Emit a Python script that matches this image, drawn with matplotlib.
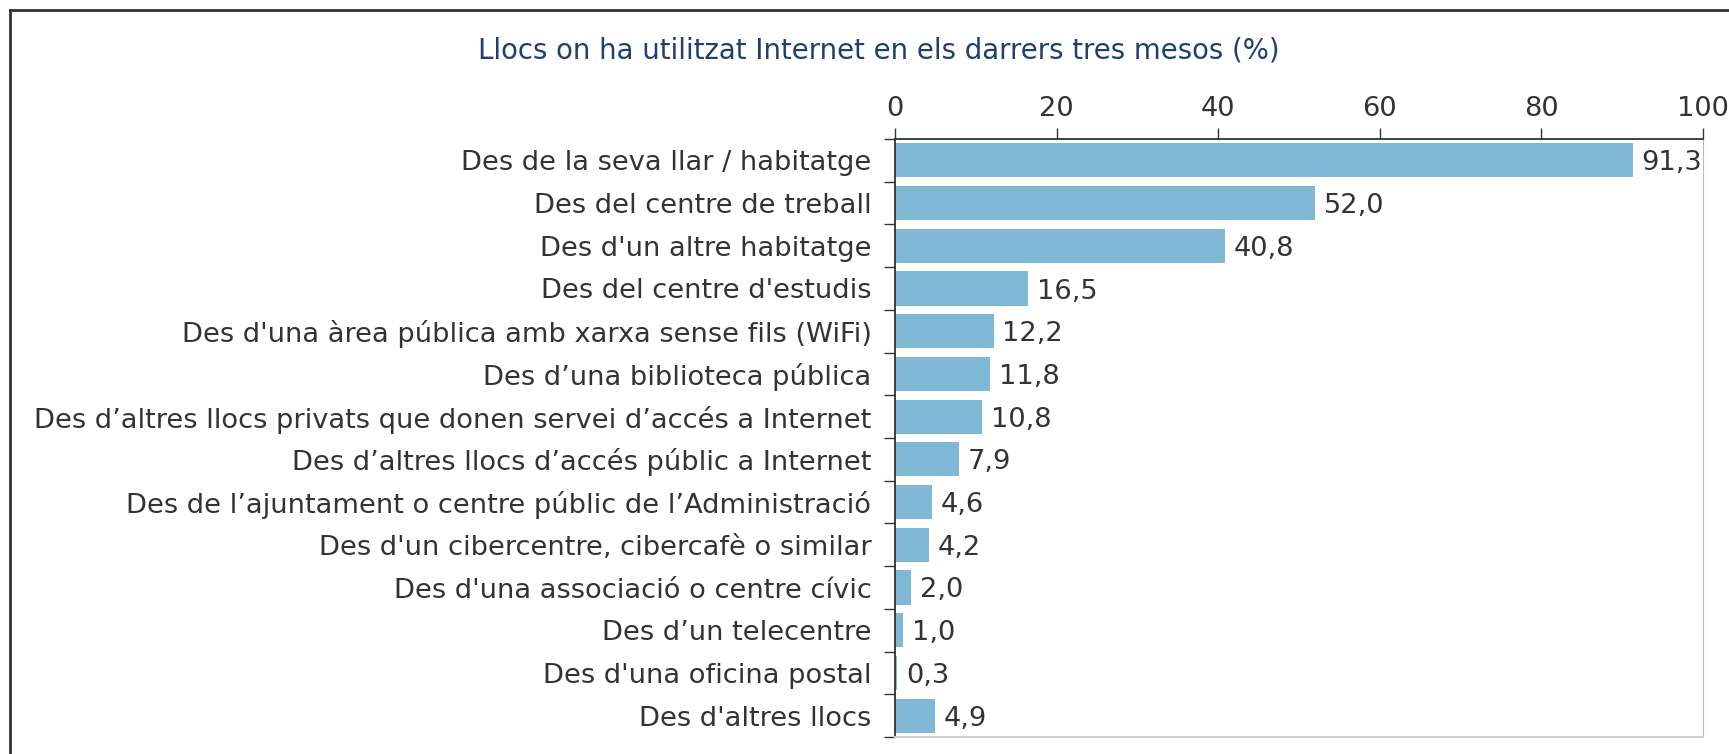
import matplotlib
matplotlib.use("Agg")
import matplotlib.pyplot as plt
import numpy as np

# data
llocs = [
    "Des de la seva llar / habitatge",
    "Des del centre de treball",
    "Des d'un altre habitatge",
    "Des del centre d'estudis",
    "Des d'una àrea pública amb xarxa sense fils (WiFi)",
    "Des d\u2019una biblioteca pública",
    "Des d\u2019altres llocs privats que donen servei d\u2019accés a Internet",
    "Des d\u2019altres llocs d\u2019accés públic a Internet",
    "Des de l\u2019ajuntament o centre públic de l\u2019Administració",
    "Des d'un cibercentre, cibercafè o similar",
    "Des d'una associació o centre cívic",
    "Des d\u2019un telecentre",
    "Des d'una oficina postal",
    "Des d'altres llocs",
]
percent = [91.3, 52.0, 40.8, 16.5, 12.2, 11.8, 10.8, 7.9, 4.6, 4.2, 2.0, 1.0, 0.3, 4.9]
xticks = [0, 20, 40, 60, 80, 100]

W, H = 1729, 754
fig = plt.figure(figsize=(W / 100, H / 100), dpi=100)
ax = fig.add_axes([895 / W, 1 - 737 / H, (1703 - 895) / W, (737 - 139) / H])

dark = "#333333"
fs = 19.6

y = np.arange(len(llocs))
ax.barh(y, percent, height=0.8, color="#7fb9d6")
for yi, v in zip(y, percent):
    ax.text(v + 1.1, yi, f"{v:.1f}".replace(".", ","), va="center_baseline", ha="left",
            fontsize=fs, color=dark)

ax.set_xlim(0, 100)
ax.set_ylim(len(llocs) - 0.5, -0.5)
ax.xaxis.tick_top()
ax.set_xticks(xticks)
ax.set_xticklabels([str(t) for t in xticks], fontsize=fs, color=dark)
ax.tick_params(axis="x", direction="out", length=8, width=1, color=dark, pad=4)

ax.set_yticks(y)
ax.set_yticklabels(llocs, fontsize=fs, color=dark)
ax.set_yticks(np.arange(-0.5, len(llocs)), minor=True)
ax.tick_params(axis="y", which="major", length=0, pad=17)
ax.tick_params(axis="y", which="minor", direction="out", length=8, width=1, color=dark)

ax.spines["top"].set_color(dark)
ax.spines["left"].set_color(dark)
ax.spines["top"].set_linewidth(1.3)
ax.spines["left"].set_linewidth(1.3)
ax.spines["right"].set_color("#b8b8b8")
ax.spines["bottom"].set_color("#d0d0d0")
ax.spines["bottom"].set_linewidth(1.5)

fig.text(879 / W, 1 - 50 / H, "Llocs on ha utilitzat Internet en els darrers tres mesos (%)",
         ha="center", va="center", fontsize=19.8, color="#1f3f6e")

# outer frame (top and left edges only show in the reference)
fig.add_artist(plt.Line2D([10 / W, 1], [1 - 10 / H, 1 - 10 / H], transform=fig.transFigure,
                          color=dark, lw=2))
fig.add_artist(plt.Line2D([10 / W, 10 / W], [0, 1 - 10 / H], transform=fig.transFigure,
                          color=dark, lw=2))

fig.savefig("out.png", dpi=100, facecolor="white")
